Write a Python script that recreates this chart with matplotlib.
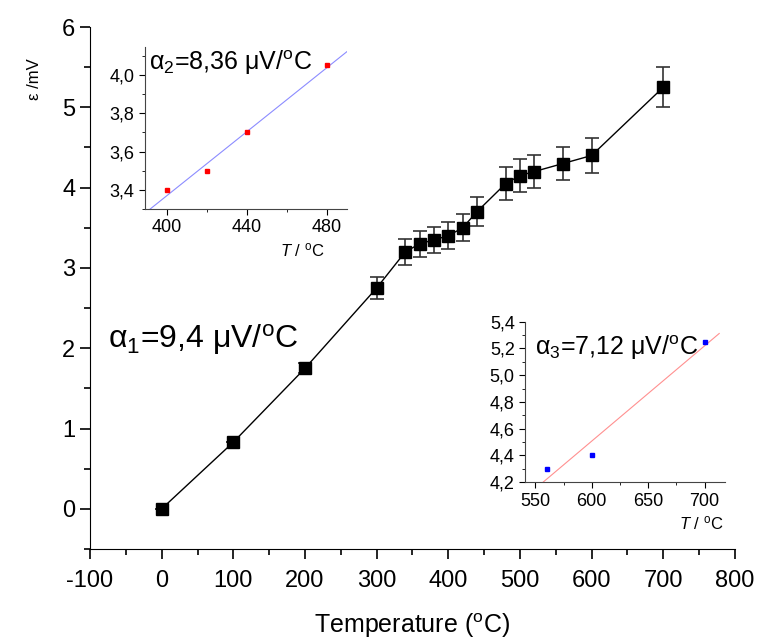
import numpy as np
import matplotlib
matplotlib.use("Agg")
import matplotlib.pyplot as plt
from matplotlib.ticker import MultipleLocator, FuncFormatter

plt.rcParams['font.family'] = ['Liberation Sans', 'DejaVu Sans']
plt.rcParams['mathtext.fontset'] = 'custom'
plt.rcParams['mathtext.rm'] = 'Liberation Sans'
plt.rcParams['mathtext.it'] = 'Liberation Sans:italic'
plt.rcParams['axes.unicode_minus'] = False

# main data
temp = [0, 100, 200, 300, 340, 360, 380, 400, 420, 440, 480, 500, 520, 560, 600, 700]
emf = [0.0, 0.83, 1.75, 2.75, 3.2, 3.3, 3.35, 3.4, 3.5, 3.7, 4.05, 4.15, 4.2, 4.3, 4.4, 5.25]
emf_err = [0.0, 0.0, 0.06, 0.14, 0.16, 0.16, 0.16, 0.17, 0.17, 0.18, 0.21, 0.21, 0.21, 0.21, 0.22, 0.25]

# inset data
t2 = [400, 420, 440, 480]
e2 = [3.4, 3.5, 3.7, 4.05]
t3 = [560, 600, 700]
e3 = [4.3, 4.4, 5.25]

comma = FuncFormatter(lambda v, p: ('%.1f' % v).replace('.', ','))
deg = r'$^{\mathrm{o}}$C'

fig = plt.figure(figsize=(7.59, 6.43), dpi=100)
ax = fig.add_axes([0.1186, 0.1462, 0.8497, 0.8118])
ax.errorbar(temp, emf, yerr=emf_err, fmt='s-', color='black', ms=9, lw=1,
            ecolor='#333333', elinewidth=1.2, capsize=5, capthick=1.2)
ax.set_xlim(-100, 800)
ax.set_ylim(-0.5, 6)
ax.spines['top'].set_visible(False)
ax.spines['right'].set_visible(False)
ax.xaxis.set_major_locator(MultipleLocator(100))
ax.xaxis.set_minor_locator(MultipleLocator(50))
ax.yaxis.set_minor_locator(MultipleLocator(0.5))
ax.set_yticks([0, 1, 2, 3, 4, 5, 6])
ax.tick_params(which='major', direction='out', length=7, width=1.2, labelsize=17)
ax.tick_params(axis='x', which='major', pad=8)
ax.tick_params(which='minor', direction='out', length=4, width=1.2)
ax.set_xlabel('Temperature (' + deg + ')', fontsize=18, labelpad=14)
ax.set_ylabel('ε /mV', fontsize=12)
ax.yaxis.set_label_coords(-0.075, 0.90)
ax.text(-75, 2.0, 'α$_1$=9,4 μV/' + deg, fontsize=23)

# inset 2
ax2 = fig.add_axes([0.191, 0.675, 0.266, 0.252])
fit2 = np.polyfit(t2, e2, 1)
xx2 = np.array([385, 490])
ax2.plot(xx2, np.polyval(fit2, xx2), color='#8c8cff', lw=0.8)
ax2.plot(t2, e2, 's', color='red', ms=3)
ax2.set_xlim(389, 490)
ax2.set_ylim(3.3, 4.147)
ax2.xaxis.set_major_locator(MultipleLocator(40))
ax2.xaxis.set_minor_locator(MultipleLocator(20))
ax2.yaxis.set_minor_locator(MultipleLocator(0.1))
ax2.yaxis.set_major_formatter(comma)
ax2.set_yticks([3.4, 3.6, 3.8, 4.0])
ax2.text(0.02, 0.99, 'α$_2$=8,36 μV/' + deg, transform=ax2.transAxes,
         fontsize=18, va='top')
ax2.set_xlabel('$T$ / ' + deg, fontsize=12)
ax2.xaxis.set_label_coords(0.78, -0.2)

# inset 3
ax3 = fig.add_axes([0.692, 0.25, 0.263, 0.2497])
fit3 = np.polyfit(t3, e3, 1)
xx3 = np.array([540, 713])
ax3.plot(xx3, np.polyval(fit3, xx3), color='#ff9090', lw=0.8)
ax3.plot(t3, e3, 's', color='blue', ms=3)
ax3.set_xlim(541, 718)
ax3.set_ylim(4.2, 5.4)
ax3.xaxis.set_minor_locator(MultipleLocator(25))
ax3.yaxis.set_minor_locator(MultipleLocator(0.1))
ax3.yaxis.set_major_formatter(comma)
ax3.set_xticks([550, 600, 650, 700])
ax3.set_yticks([4.2, 4.4, 4.6, 4.8, 5.0, 5.2, 5.4])
ax3.text(0.05, 0.93, 'α$_3$=7,12 μV/' + deg, transform=ax3.transAxes,
         fontsize=18, va='top')
ax3.set_xlabel('$T$ / ' + deg, fontsize=12)
ax3.xaxis.set_label_coords(0.88, -0.2)

for a in (ax2, ax3):
    a.spines['top'].set_visible(False)
    a.spines['right'].set_visible(False)
    a.tick_params(which='major', direction='out', length=4, labelsize=13)
    a.tick_params(which='minor', direction='out', length=2)
    for s in a.spines.values():
        s.set_color('#444444')

fig.savefig('out.png', dpi=100)
